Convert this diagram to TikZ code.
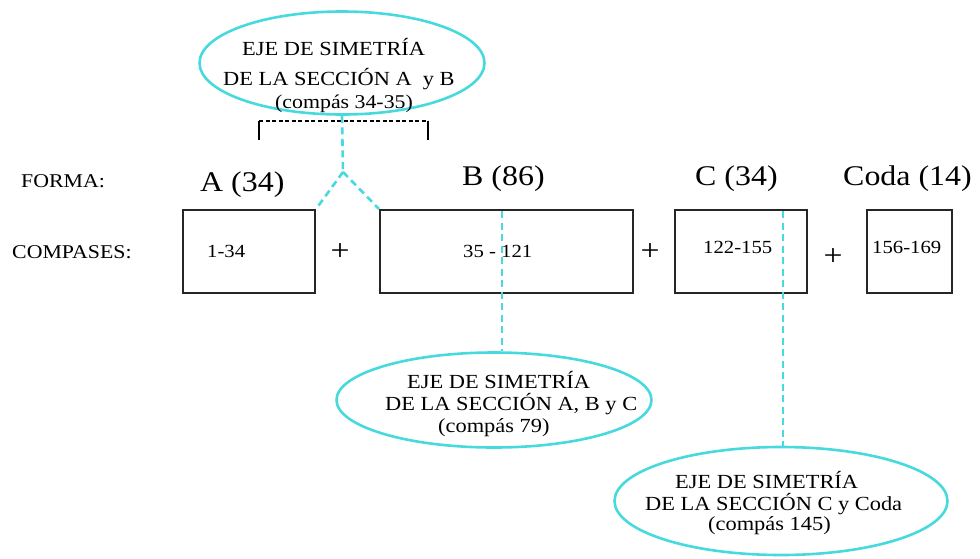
\documentclass[tikz,border=0pt]{standalone}
\usepackage{fontspec}
\setmainfont{Liberation Serif}[FakeStretch=1.12]
\usetikzlibrary{shapes.geometric}
\definecolor{axiscyan}{RGB}{70,218,222}
\tikzset{
  txt/.style={anchor=base west, inner sep=0pt, font=\fontsize{#1}{#1}\selectfont},
  txt/.default=20,
  sectbox/.style={draw=black!85, line width=2.1pt, minimum height=83pt, inner sep=0pt},
  axisline/.style={draw=axiscyan, line width=2.6pt, dash pattern=on 7pt off 4.5pt},
  axisell/.style={ellipse, draw=axiscyan, line width=2.6pt, inner sep=0pt},
  plussign/.style={inner sep=0pt, font=\fontsize{30}{30}\selectfont}
}
\begin{document}
\begin{tikzpicture}[x=1pt,y=-1pt]
\useasboundingbox (0,0) rectangle (980,558);

% ellipses
\node[axisell, minimum width=285pt, minimum height=103pt] (e1) at (342,63) {};
\node[axisell, minimum width=315pt, minimum height=95pt] (e2) at (494,400) {};
\node[axisell, minimum width=333pt, minimum height=108pt] (e3) at (781,501) {};

% ellipse texts
\node[txt] (t11) at (242,55) {EJE DE SIMETRÍA};
\node[txt] (t12) at (223,85) {DE LA SECCIÓN A~~y B};
\node[txt=19.5] (t13) at (275,108) {(compás 34-35)};
\node[txt] (t21) at (407,388) {EJE DE SIMETRÍA};
\node[txt] (t22) at (385,410) {DE LA SECCIÓN A, B y C};
\node[txt] (t23) at (438,432) {(compás 79)};
\node[txt] (t31) at (675,488) {EJE DE SIMETRÍA};
\node[txt] (t32) at (645,510) {DE LA SECCIÓN C y Coda};
\node[txt] (t33) at (708,530) {(compás 145)};

% row labels
\node[txt=19.5] (forma) at (21,187) {FORMA:};
\node[txt=19.5] (comp) at (12,258) {COMPASES:};

% headers
\node[txt=28.5] (hA) at (200,191) {A (34)};
\node[txt=28.5] (hB) at (462,185) {B (86)};
\node[txt=28.5] (hC) at (695,185) {C (34)};
\node[txt=28.5] (hD) at (843,185) {Coda (14)};

% boxes
\node[sectbox, minimum width=132pt] (bA) at (249,251.5) {};
\node[sectbox, minimum width=253pt] (bB) at (506.5,251.5) {};
\node[sectbox, minimum width=132pt] (bC) at (741,251.5) {};
\node[sectbox, minimum width=85pt] (bD) at (909.5,251.5) {};

% box numbers
\node[txt=18.5] (nA) at (207,257) {1-34};
\node[txt=18.5] (nB) at (463,257) {35 - 121};
\node[txt=18.5] (nC) at (703,253) {122-155};
\node[txt=18.5] (nD) at (872,253) {156-169};

% plus signs
\node[plussign] (p1) at (340,252) {+};
\node[plussign] (p2) at (650,252) {+};
\node[plussign] (p3) at (833,257) {+};

% bracket
\coordinate (brL) at (259,121);
\coordinate (brR) at (428,121);
\draw[black, line width=1.4pt, dash pattern=on 4pt off 2.5pt] (brL) -- (brR);
\draw[black, line width=2.2pt] (brL) -- ++(0,19);
\draw[black, line width=2.2pt] (brR) -- ++(0,19);

% symmetry axes
\coordinate (vtx) at (343,172);
\draw[axisline] (e1.south) -- (vtx);
\draw[axisline] (vtx) -- (bA.north east);
\draw[axisline] (vtx) -- (bB.north west);
\coordinate (axB) at (502,211);
\draw[axisline] (axB) -- (axB |- e2.north);
\coordinate (axC) at (783,211);
\draw[axisline] (axC) -- (axC |- e3.north);
\end{tikzpicture}
\end{document}
